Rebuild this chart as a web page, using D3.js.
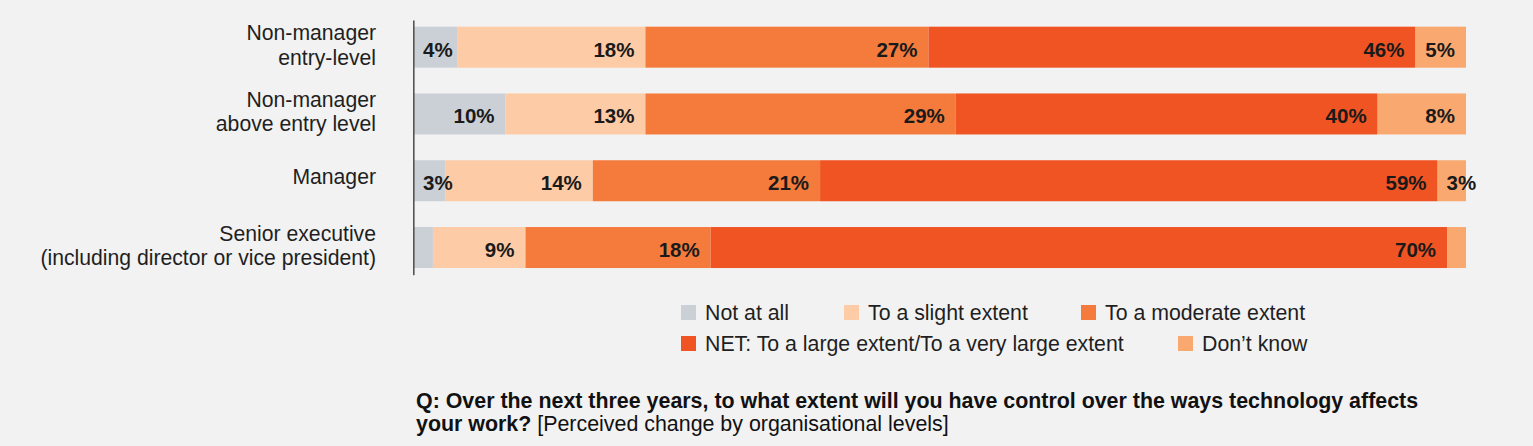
<!DOCTYPE html>
<html>
<head>
<meta charset="utf-8">
<script src="https://cdn.jsdelivr.net/npm/d3@7"></script>
<style>
  html, body { margin: 0; padding: 0; background: #f2f2f2; }
  svg { display: block; }
  text { font-family: "Liberation Sans", Arial, sans-serif; }
</style>
</head>
<body>
<svg id="chart" width="1533" height="446"></svg>
<script>
// ---- data ----
const categories = [
  "Non-manager\nentry-level",
  "Non-manager\nabove entry level",
  "Manager",
  "Senior executive\n(including director or vice president)"
];
const seriesNames = ["Not at all", "To a slight extent", "To a moderate extent",
  "NET: To a large extent/To a very large extent", "Don\u2019t know"];
const seriesColors = ["#cbd0d7", "#fdcba6", "#f47b3c", "#f05423", "#f9a870"];
// bar segment widths (share, %) as drawn
const notAtAll = [4.1, 8.7, 3.0, 1.8];
const slight   = [17.9, 13.3, 14.0, 8.8];
const moderate = [26.9, 29.5, 21.6, 17.6];
const large    = [46.3, 40.1, 58.7, 70.0];
const dontKnow = [4.8, 8.4, 2.7, 1.8];
// printed labels (%)
const lblNotAtAll = [4, 10, 3, null];
const lblSlight   = [18, 13, 14, 9];
const lblModerate = [27, 29, 21, 18];
const lblLarge    = [46, 40, 59, 70];
const lblDontKnow = [5, 8, 3, null];
const questionBold = "Q: Over the next three years, to what extent will you have control over the ways technology affects";
const questionBold2 = "your work?";
const questionNote = " [Perceived change by organisational levels]";

const series = [notAtAll, slight, moderate, large, dontKnow];
const labels = [lblNotAtAll, lblSlight, lblModerate, lblLarge, lblDontKnow];

const svg = d3.select("#chart");
svg.append("rect").attr("width", 1533).attr("height", 446).attr("fill", "#f2f2f2");

const x = d3.scaleLinear().domain([0, 100]).range([414, 1466]);
const y = d3.scaleBand().domain(categories).range([20, 274.7])
  .paddingInner(0.386).paddingOuter(0.1);

// build stacked rows
const rows = categories.map((c, i) => {
  const obj = { cat: c };
  seriesNames.forEach((s, k) => obj[s] = series[k][i]);
  return obj;
});
const stack = d3.stack().keys(seriesNames)(rows);

const gBars = svg.append("g");
stack.forEach((layer, k) => {
  const g = gBars.append("g").attr("fill", seriesColors[k]);
  g.selectAll("rect").data(layer).join("rect")
    .attr("x", d => x(d[0]))
    .attr("y", d => y(d.data.cat))
    .attr("width", d => x(d[1]) - x(d[0]))
    .attr("height", y.bandwidth());
});

// value labels
const gLbl = svg.append("g").attr("font-size", 20.5).attr("font-weight", "bold").attr("fill", "#1a1a1a");
stack.forEach((layer, k) => {
  layer.forEach((d, i) => {
    const v = labels[k][i];
    if (v == null) return;
    const t = gLbl.append("text")
      .attr("text-anchor", "start")
      .attr("y", y(d.data.cat) + y.bandwidth() / 2 + 9.5)
      .text(v + "%");
    const w = t.node().getComputedTextLength();
    const x0 = x(d[0]), x1 = x(d[1]);
    let left = x1 - 11 - w;
    if (left < x0 + 9) left = x0 + 9;
    t.attr("x", left);
  });
});

// axis
const axis = svg.append("g").attr("transform", "translate(413.3,0)")
  .call(d3.axisLeft(y).tickSize(0).tickSizeOuter(0).tickPadding(37).tickFormat(() => ""));
axis.select(".domain").attr("stroke", "#555").attr("stroke-width", 1.6);
axis.selectAll(".tick text").remove();

// category labels
const gCat = svg.append("g").attr("font-size", 21.2).attr("fill", "#1f1f1f").attr("text-anchor", "end");
categories.forEach(c => {
  const lines = c.split("\n");
  const cy = y(c) + y.bandwidth() / 2;
  const t = gCat.append("text").attr("x", 376);
  if (lines.length === 1) {
    t.attr("y", cy + 3.7).text(lines[0]);
  } else {
    lines.forEach((ln, j) => t.append("tspan").attr("x", 376).attr("y", cy - 7 + j * 24.5).text(ln));
  }
});

// legend
const legendPos = [[681, 305], [844, 305], [1081, 305], [681, 336], [1178, 336]];
const gLeg = svg.append("g").attr("font-size", 21.3).attr("fill", "#1f1f1f");
seriesNames.forEach((s, k) => {
  const [lx, ly] = legendPos[k];
  gLeg.append("rect").attr("x", lx).attr("y", ly).attr("width", 15).attr("height", 15).attr("fill", seriesColors[k]);
  gLeg.append("text").attr("x", lx + 24).attr("y", ly + 15).text(s);
});

// question
const q = svg.append("g").attr("font-size", 21.4).attr("fill", "#111");
q.append("text").attr("x", 416).attr("y", 408).attr("font-weight", "bold").text(questionBold);
const q2 = q.append("text").attr("x", 416).attr("y", 431);
q2.append("tspan").attr("font-weight", "bold").text(questionBold2);
q2.append("tspan").text(questionNote);
</script>
</body>
</html>
